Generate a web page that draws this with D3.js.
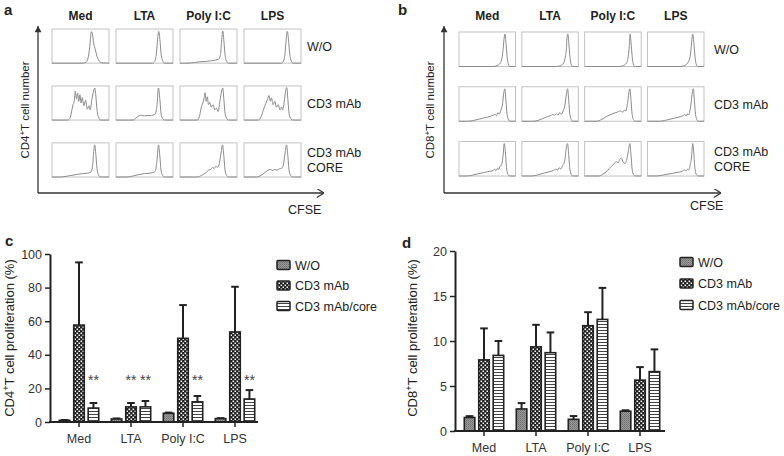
<!DOCTYPE html>
<html><head><meta charset="utf-8">
<script src="https://cdn.jsdelivr.net/npm/d3@7"></script>
<style>body{margin:0;background:#fff}svg{display:block;font-family:"Liberation Sans",Arial,sans-serif}</style>
</head><body><svg id="c" width="784" height="456"></svg>
<script>
// ---------- DATA ----------
const stimuli = ["Med", "LTA", "Poly I:C", "LPS"];
const conditions = ["W/O", "CD3 mAb", "CD3 mAb/core"];
const rowLabels = [["W/O"], ["CD3 mAb"], ["CD3 mAb", "CORE"]];

// CFSE histograms: knots [relative CFSE, relative count]
const cd4WO = [
  [[0,0],[0.55,0],[0.6,0.03],[0.64,0.2],[0.67,0.6],[0.69,0.92],[0.71,0.85],[0.73,0.6],[0.76,0.4],[0.79,0.2],[0.83,0.06],[0.87,0.01],[1,0]],
  [[0,0],[0.64,0],[0.68,0.05],[0.71,0.3],[0.73,0.7],[0.75,0.93],[0.77,0.7],[0.79,0.3],[0.82,0.07],[0.85,0],[1,0]],
  [[0,0],[0.15,0],[0.25,0.02],[0.35,0.04],[0.45,0.05],[0.55,0.07],[0.62,0.09],[0.68,0.12],[0.71,0.25],[0.73,0.65],[0.75,0.94],[0.77,0.65],[0.79,0.25],[0.82,0.05],[0.85,0],[1,0]],
  [[0,0],[0.65,0],[0.69,0.05],[0.72,0.3],[0.74,0.7],[0.76,0.93],[0.78,0.7],[0.8,0.3],[0.83,0.06],[0.86,0],[1,0]]
];
const cd4CD3 = [
  [[0,0],[0.28,0],[0.32,0.08],[0.35,0.3],[0.37,0.46],[0.39,0.55],[0.41,0.85],[0.43,0.62],[0.45,0.78],[0.47,0.55],[0.49,0.74],[0.51,0.5],[0.53,0.66],[0.56,0.42],[0.59,0.58],[0.62,0.32],[0.65,0.42],[0.67,0.3],[0.7,0.6],[0.73,0.85],[0.75,0.94],[0.77,0.7],[0.79,0.3],[0.82,0.08],[0.85,0],[1,0]],
  [[0,0],[0.3,0],[0.35,0.06],[0.4,0.12],[0.45,0.14],[0.5,0.12],[0.55,0.14],[0.6,0.13],[0.65,0.15],[0.69,0.18],[0.72,0.45],[0.745,0.94],[0.77,0.6],[0.79,0.2],[0.82,0.04],[0.85,0],[1,0]],
  [[0,0],[0.3,0],[0.34,0.1],[0.37,0.35],[0.4,0.5],[0.42,0.62],[0.44,0.8],[0.46,0.55],[0.48,0.68],[0.5,0.45],[0.52,0.52],[0.55,0.38],[0.58,0.45],[0.61,0.3],[0.64,0.35],[0.67,0.25],[0.7,0.55],[0.73,0.85],[0.75,0.94],[0.77,0.6],[0.79,0.2],[0.82,0.04],[0.85,0],[1,0]],
  [[0,0],[0.25,0],[0.3,0.1],[0.34,0.3],[0.38,0.48],[0.41,0.6],[0.44,0.72],[0.46,0.55],[0.48,0.65],[0.51,0.45],[0.54,0.55],[0.57,0.38],[0.6,0.45],[0.63,0.3],[0.66,0.38],[0.68,0.3],[0.71,0.6],[0.735,0.9],[0.75,0.95],[0.77,0.6],[0.79,0.2],[0.82,0.04],[0.85,0],[1,0]]
];
const cd4Core = [
  [[0,0],[0.15,0],[0.25,0.02],[0.35,0.05],[0.45,0.08],[0.55,0.1],[0.62,0.11],[0.68,0.14],[0.71,0.3],[0.73,0.7],[0.75,0.94],[0.77,0.65],[0.79,0.25],[0.82,0.05],[0.85,0],[1,0]],
  [[0,0],[0.2,0],[0.3,0.03],[0.4,0.07],[0.5,0.1],[0.58,0.11],[0.65,0.13],[0.69,0.18],[0.72,0.5],[0.745,0.94],[0.77,0.6],[0.79,0.2],[0.82,0.04],[0.85,0],[1,0]],
  [[0,0],[0.3,0],[0.38,0.05],[0.45,0.12],[0.5,0.2],[0.54,0.22],[0.57,0.28],[0.6,0.25],[0.63,0.32],[0.66,0.28],[0.69,0.4],[0.72,0.7],[0.745,0.94],[0.77,0.6],[0.79,0.2],[0.82,0.04],[0.85,0],[1,0]],
  [[0,0],[0.22,0],[0.3,0.05],[0.36,0.12],[0.42,0.2],[0.46,0.22],[0.5,0.19],[0.54,0.22],[0.58,0.2],[0.62,0.24],[0.66,0.26],[0.69,0.35],[0.72,0.7],[0.745,0.94],[0.77,0.6],[0.79,0.2],[0.82,0.04],[0.85,0],[1,0]]
];
const cd8WO = [
  [[0,0],[0.6,0],[0.68,0.03],[0.73,0.1],[0.76,0.25],[0.78,0.5],[0.8,0.85],[0.815,0.94],[0.83,0.7],[0.85,0.3],[0.87,0.08],[0.9,0],[1,0]],
  [[0,0],[0.62,0],[0.69,0.03],[0.74,0.1],[0.77,0.28],[0.79,0.55],[0.8,0.85],[0.815,0.94],[0.83,0.7],[0.85,0.3],[0.87,0.08],[0.9,0],[1,0]],
  [[0,0],[0.62,0],[0.69,0.03],[0.74,0.1],[0.77,0.28],[0.79,0.6],[0.805,0.94],[0.82,0.7],[0.84,0.3],[0.86,0.08],[0.89,0],[1,0]],
  [[0,0],[0.58,0],[0.66,0.03],[0.71,0.1],[0.75,0.25],[0.77,0.5],[0.79,0.85],[0.8,0.94],[0.82,0.7],[0.84,0.3],[0.86,0.08],[0.89,0],[1,0]]
];
const cd8CD3 = [
  [[0,0],[0.15,0],[0.25,0.02],[0.35,0.06],[0.45,0.1],[0.55,0.14],[0.6,0.17],[0.64,0.2],[0.66,0.16],[0.69,0.25],[0.71,0.2],[0.74,0.32],[0.77,0.5],[0.79,0.8],[0.81,0.94],[0.83,0.6],[0.85,0.2],[0.88,0.03],[0.9,0],[1,0]],
  [[0,0],[0.2,0],[0.3,0.03],[0.4,0.1],[0.5,0.16],[0.55,0.2],[0.58,0.17],[0.61,0.22],[0.64,0.18],[0.67,0.25],[0.7,0.2],[0.73,0.3],[0.76,0.45],[0.79,0.8],[0.81,0.94],[0.83,0.6],[0.85,0.2],[0.88,0.03],[0.9,0],[1,0]],
  [[0,0],[0.2,0],[0.3,0.05],[0.4,0.15],[0.5,0.22],[0.55,0.25],[0.6,0.28],[0.64,0.3],[0.67,0.26],[0.7,0.32],[0.73,0.3],[0.76,0.55],[0.79,0.9],[0.8,0.94],[0.82,0.6],[0.84,0.2],[0.87,0.03],[0.9,0],[1,0]],
  [[0,0],[0.2,0],[0.3,0.02],[0.4,0.06],[0.5,0.1],[0.58,0.13],[0.63,0.16],[0.66,0.2],[0.68,0.15],[0.71,0.22],[0.73,0.18],[0.75,0.3],[0.77,0.5],[0.79,0.8],[0.81,0.94],[0.83,0.6],[0.85,0.2],[0.88,0.03],[0.9,0],[1,0]]
];
const cd8Core = [
  [[0,0],[0.15,0],[0.25,0.03],[0.35,0.07],[0.45,0.1],[0.55,0.14],[0.6,0.15],[0.63,0.2],[0.65,0.15],[0.68,0.22],[0.7,0.18],[0.72,0.28],[0.75,0.3],[0.78,0.6],[0.8,0.94],[0.82,0.7],[0.84,0.25],[0.87,0.03],[0.9,0],[1,0]],
  [[0,0],[0.18,0],[0.28,0.03],[0.38,0.08],[0.48,0.12],[0.56,0.16],[0.6,0.2],[0.63,0.17],[0.66,0.24],[0.69,0.2],[0.72,0.3],[0.76,0.45],[0.79,0.85],[0.81,0.94],[0.83,0.6],[0.85,0.2],[0.88,0.03],[0.9,0],[1,0]],
  [[0,0],[0.25,0],[0.32,0.05],[0.4,0.15],[0.47,0.28],[0.52,0.35],[0.56,0.42],[0.59,0.38],[0.62,0.48],[0.65,0.52],[0.68,0.4],[0.71,0.36],[0.74,0.45],[0.77,0.7],[0.8,0.94],[0.82,0.6],[0.84,0.2],[0.87,0.03],[0.9,0],[1,0]],
  [[0,0],[0.15,0],[0.25,0.02],[0.35,0.05],[0.45,0.08],[0.55,0.11],[0.62,0.14],[0.66,0.18],[0.68,0.14],[0.71,0.2],[0.73,0.17],[0.75,0.28],[0.78,0.55],[0.8,0.94],[0.82,0.65],[0.84,0.22],[0.87,0.03],[0.9,0],[1,0]]
];

// Proliferation (%): mean and upper error (mean + SD)
const cd4WOMean = [1.0, 1.8, 5.2, 2.0];
const cd4WOTop = [1.2, 2.1, 5.6, 2.3];
const cd4CD3Mean = [57.7, 9.0, 49.8, 53.6];
const cd4CD3Top = [95.0, 11.3, 69.6, 80.5];
const cd4CoreMean = [8.3, 9.0, 12.0, 13.7];
const cd4CoreTop = [11.3, 12.5, 15.5, 19.0];

const cd8WOMean = [1.5, 2.45, 1.3, 2.2];
const cd8WOTop = [1.65, 3.1, 1.66, 2.3];
const cd8CD3Mean = [7.9, 9.35, 11.7, 5.65];
const cd8CD3Top = [11.4, 11.8, 13.2, 7.1];
const cd8CoreMean = [8.4, 8.7, 12.4, 6.6];
const cd8CoreTop = [10.0, 10.95, 15.9, 9.07];

const cd4Ticks = [0, 20, 40, 60, 80, 100];
const cd8Ticks = [0, 5, 10, 15, 20];
// significance marks: [stimulus index, condition index]
const cd4Stars = [[0, 2], [1, 1], [1, 2], [2, 2], [3, 2]];

// ---------- DRAW ----------
const svg = d3.select("#c");
const ink = "#222";
const defs = svg.append("defs");

// patterns
const pWO = defs.append("pattern").attr("id", "pWO").attr("patternUnits", "userSpaceOnUse").attr("width", 2).attr("height", 2);
pWO.append("rect").attr("width", 2).attr("height", 2).attr("fill", "#9a9a9a");
pWO.append("rect").attr("width", 1).attr("height", 1).attr("fill", "#6e6e6e");
pWO.append("rect").attr("x", 1).attr("y", 1).attr("width", 1).attr("height", 1).attr("fill", "#7e7e7e");
const pCD3 = defs.append("pattern").attr("id", "pCD3").attr("patternUnits", "userSpaceOnUse").attr("width", 4).attr("height", 4);
pCD3.append("rect").attr("width", 4).attr("height", 4).attr("fill", "#1e1e1e");
pCD3.append("rect").attr("x", 0.5).attr("y", 0.5).attr("width", 1.6).attr("height", 1.6).attr("fill", "#fff");
pCD3.append("rect").attr("x", 2.5).attr("y", 2.5).attr("width", 1.6).attr("height", 1.6).attr("fill", "#fff");
const pCore = defs.append("pattern").attr("id", "pCore").attr("patternUnits", "userSpaceOnUse").attr("width", 4).attr("height", 3);
pCore.append("rect").attr("width", 4).attr("height", 3).attr("fill", "#fff");
pCore.append("rect").attr("y", 0).attr("width", 4).attr("height", 1).attr("fill", "#444");
const fills = ["url(#pWO)", "url(#pCD3)", "url(#pCore)"];

// arrowhead markers
defs.append("marker").attr("id", "arrUp").attr("viewBox", "0 0 10 10").attr("refX", 5).attr("refY", 0)
  .attr("markerWidth", 7).attr("markerHeight", 7).attr("markerUnits", "userSpaceOnUse").attr("orient", "0")
  .append("path").attr("d", "M0,9 L5,0 L10,9 Z").attr("fill", "#333");
defs.append("marker").attr("id", "arrRight").attr("viewBox", "0 0 10 10").attr("refX", 10).attr("refY", 5)
  .attr("markerWidth", 9).attr("markerHeight", 9).attr("markerUnits", "userSpaceOnUse").attr("orient", "0")
  .append("path").attr("d", "M2,0 L10,5 L2,10").attr("fill", "none").attr("stroke", "#333").attr("stroke-width", 1.3);

function panelLabel(t, x, y) {
  svg.append("text").attr("x", x).attr("y", y).attr("font-size", 15).attr("font-weight", "bold").attr("fill", ink).text(t);
}
function yTitle(g, x, y, cell, rest, fs) {
  const t = g.append("text").attr("transform", `translate(${x},${y}) rotate(-90)`).attr("text-anchor", "middle")
    .attr("font-size", fs).attr("fill", ink);
  t.append("tspan").text(cell);
  t.append("tspan").attr("font-size", fs * 0.7).attr("dy", -fs * 0.35).text("+");
  t.append("tspan").attr("dy", fs * 0.35).text(rest);
}

// ---------- Histogram panels ----------
function histPanel(o) {
  const g = svg.append("g");
  const col = d3.scaleBand().domain(stimuli).range(o.xr).paddingInner(o.pad).paddingOuter(0);
  const row = d3.scaleBand().domain([0, 1, 2]).range(o.yr).paddingInner(o.rpad).paddingOuter(0);
  const rows = [o.wo, o.cd3, o.core];
  const hx = d3.scaleLinear().domain([0, 1]).range([0, col.bandwidth()]);
  const hy = d3.scaleLinear().domain([0, 1]).range([row.bandwidth(), 0]);
  const line = d3.line().x(d => hx(d[0])).y(d => hy(d[1])).curve(d3.curveMonotoneX);
  stimuli.forEach((s, i) => {
    g.append("text").attr("x", col(s) + col.bandwidth() / 2).attr("y", 20).attr("text-anchor", "middle")
      .attr("font-size", 12).attr("font-weight", "bold").attr("fill", ink).text(s);
    rows.forEach((r, j) => {
      const cell = g.append("g").attr("transform", `translate(${col(s)},${row(j)})`);
      cell.append("rect").attr("width", col.bandwidth()).attr("height", row.bandwidth())
        .attr("fill", "#fff").attr("stroke", "#c2c2c2").attr("stroke-width", 1);
      cell.append("path").attr("d", line(r[i])).attr("fill", "none").attr("stroke", "#8a8a8a").attr("stroke-width", 1);
    });
  });
  rowLabels.forEach((lines, j) => {
    const cy = row(j) + row.bandwidth() / 2;
    lines.forEach((t, k) => {
      g.append("text").attr("x", o.labelX).attr("y", cy + (k - (lines.length - 1) / 2) * 15 + 4.5)
        .attr("font-size", 12.5).attr("fill", ink).text(t);
    });
  });
  // axes with arrows
  g.append("line").attr("x1", o.ax).attr("y1", o.ay).attr("x2", o.ax).attr("y2", o.atop)
    .attr("stroke", "#333").attr("stroke-width", 1.3).attr("marker-end", "url(#arrUp)");
  g.append("line").attr("x1", o.ax).attr("y1", o.ay).attr("x2", o.aright).attr("y2", o.ay)
    .attr("stroke", "#333").attr("stroke-width", 1.3).attr("marker-end", "url(#arrRight)");
  g.append("text").attr("x", o.cfseX).attr("y", o.cfseY).attr("font-size", 12.5).attr("fill", ink).text("CFSE");
  yTitle(g, o.titleX, 110, o.cell, "T cell number", 11.5);
}

histPanel({ xr: [52, 301], pad: 0.11, yr: [29, 177], rpad: 0.4, wo: cd4WO, cd3: cd4CD3, core: cd4Core,
  labelX: 307, ax: 38, ay: 193, atop: 26, aright: 324, cfseX: 288, cfseY: 214, titleX: 29, cell: "CD4" });
histPanel({ xr: [459, 704], pad: 0.1, yr: [32, 176], rpad: 0.37, wo: cd8WO, cd3: cd8CD3, core: cd8Core,
  labelX: 714, ax: 444, ay: 193, atop: 26, aright: 721, cfseX: 690, cfseY: 210, titleX: 434, cell: "CD8" });

panelLabel("a", 4, 15);
panelLabel("b", 398, 15);
panelLabel("c", 5, 246);
panelLabel("d", 402, 248);

// ---------- Bar panels ----------
function barPanel(o) {
  const g = svg.append("g");
  const y = d3.scaleLinear().domain([0, o.max]).range([o.y0, o.y1]);
  const x0 = d3.scaleBand().domain(stimuli).range(o.xr).paddingInner(0.167).paddingOuter(0.0835);
  const x1 = d3.scaleBand().domain(conditions).range([0, x0.bandwidth()]).paddingInner(0.27).paddingOuter(0.135);
  const series = [[o.m0, o.t0], [o.m1, o.t1], [o.m2, o.t2]];
  series.forEach(([means, tops], ci) => {
    stimuli.forEach((s, si) => {
      const bx = x0(s) + x1(conditions[ci]);
      const bw = x1.bandwidth();
      const cx = bx + bw / 2;
      g.append("line").attr("x1", cx).attr("x2", cx).attr("y1", y(means[si])).attr("y2", y(tops[si]))
        .attr("stroke", ink).attr("stroke-width", 2);
      g.append("line").attr("x1", cx - 3.8).attr("x2", cx + 3.8).attr("y1", y(tops[si])).attr("y2", y(tops[si]))
        .attr("stroke", ink).attr("stroke-width", 2);
      g.append("rect").attr("x", bx).attr("y", y(means[si])).attr("width", bw)
        .attr("height", y(0) - y(means[si])).attr("fill", fills[ci]).attr("stroke", ink).attr("stroke-width", 1.6);
    });
  });
  // y axis
  const ya = g.append("g").attr("transform", `translate(${o.ax},0)`)
    .call(d3.axisLeft(y).tickValues(o.ticks).tickSize(5).tickPadding(3).tickSizeOuter(0));
  ya.select(".domain").attr("stroke", ink).attr("stroke-width", 2);
  ya.selectAll(".tick line").attr("stroke", ink).attr("stroke-width", 1.5);
  ya.selectAll(".tick text").attr("font-size", 12.5).attr("fill", "#333").attr("font-family", "Liberation Sans, Arial, sans-serif");
  // x axis
  const xa = g.append("g").attr("transform", `translate(0,${o.y0})`)
    .call(d3.axisBottom(x0).tickSize(5).tickPadding(7).tickSizeOuter(0));
  xa.select(".domain").remove();
  xa.insert("line", ":first-child").attr("x1", o.ax - 1).attr("x2", o.xend).attr("y1", 0).attr("y2", 0)
    .attr("stroke", ink).attr("stroke-width", 2);
  xa.selectAll(".tick line").attr("stroke", ink).attr("stroke-width", 1.5);
  xa.selectAll(".tick text").attr("font-size", 12.5).attr("fill", "#333").attr("font-family", "Liberation Sans, Arial, sans-serif");
  // legend
  conditions.forEach((c, i) => {
    const ly = o.legY + i * o.legStep;
    g.append("rect").attr("x", o.legX).attr("y", ly - 4.5).attr("width", 13).attr("height", 9).attr("rx", 1)
      .attr("fill", fills[i]).attr("stroke", ink).attr("stroke-width", 1.5);
    g.append("text").attr("x", o.legX + 18).attr("y", ly + 4.5).attr("font-size", 12.5).attr("fill", ink).text(c);
  });
  // stars
  (o.stars || []).forEach(([si, ci]) => {
    const cx = x0(stimuli[si]) + x1(conditions[ci]) + x1.bandwidth() / 2;
    g.append("text").attr("x", cx).attr("y", o.starY).attr("text-anchor", "middle").attr("font-size", 14)
      .attr("fill", "#444").text("**");
  });
  yTitle(g, o.titleX, 338, o.cell, "T cell proliferation (%)", 13);
}

barPanel({ max: 100, y0: 422, y1: 254, xr: [53, 261], ax: 50, xend: 258, ticks: cd4Ticks,
  m0: cd4WOMean, t0: cd4WOTop, m1: cd4CD3Mean, t1: cd4CD3Top, m2: cd4CoreMean, t2: cd4CoreTop,
  legX: 277, legY: 265, legStep: 20.5, stars: cd4Stars, starY: 385, titleX: 14, cell: "CD4" });
barPanel({ max: 20, y0: 431, y1: 251, xr: [458, 666], ax: 455, xend: 665, ticks: cd8Ticks,
  m0: cd8WOMean, t0: cd8WOTop, m1: cd8CD3Mean, t1: cd8CD3Top, m2: cd8CoreMean, t2: cd8CoreTop,
  legX: 680, legY: 262, legStep: 21.5, stars: [], starY: 0, titleX: 417, cell: "CD8" });
</script></body></html>
